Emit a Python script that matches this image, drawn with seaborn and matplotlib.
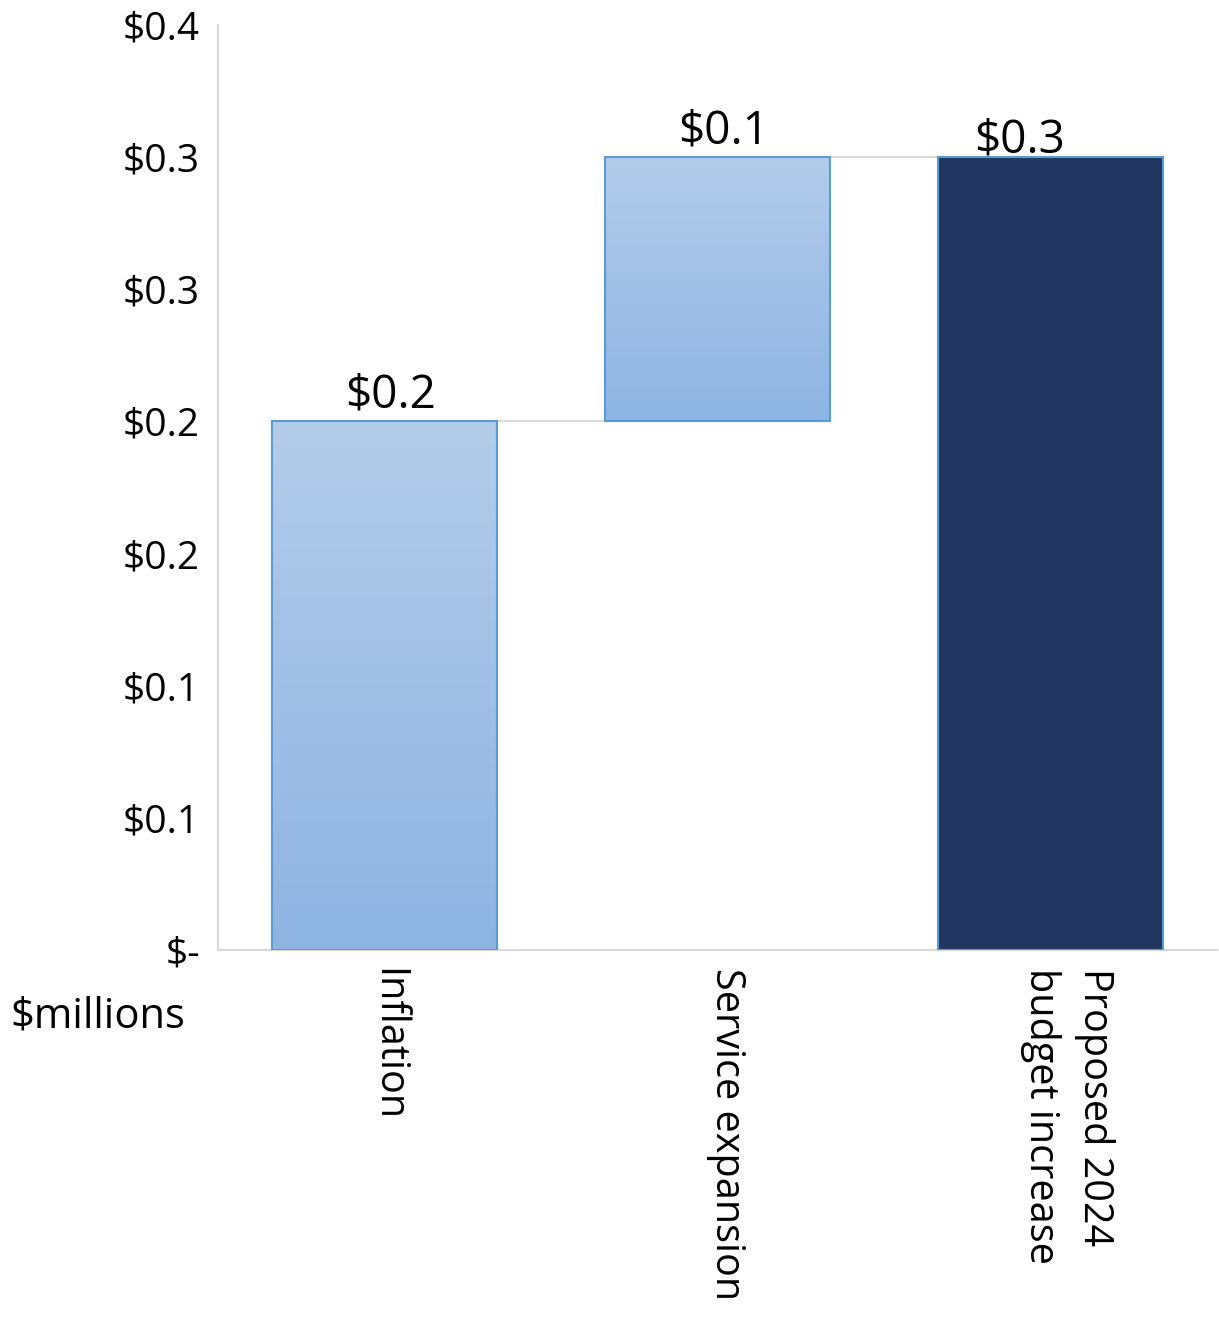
import numpy as np
import pandas as pd
import seaborn as sns
import matplotlib.pyplot as plt
from matplotlib.colors import LinearSegmentedColormap
from matplotlib.transforms import ScaledTranslation

# ---- data ----
categories = ["Inflation", "Service expansion", "Proposed 2024\nbudget increase"]
changes = [0.2, 0.1, 0.3]
is_total = [False, False, True]
value_labels = ["$0.2", "$0.1", "$0.3"]
tick_values = [0.0, 0.05, 0.10, 0.15, 0.20, 0.25, 0.30, 0.35]
tick_labels = ["$-", "$0.1", "$0.1", "$0.2", "$0.2", "$0.3", "$0.3", "$0.4"]

# waterfall bases
bases = []
running = 0.0
for c, t in zip(changes, is_total):
    if t:
        bases.append(0.0)
    else:
        bases.append(running)
        running += c
tops = [b + c for b, c in zip(bases, changes)]

df = pd.DataFrame({"category": categories, "change": changes})

# ---- style ----
sns.set_style("white")
FONT = ["Open Sans", "DejaVu Sans"]
plt.rcParams["font.family"] = FONT
plt.rcParams["text.color"] = "black"
plt.rcParams["xtick.color"] = "black"
plt.rcParams["ytick.color"] = "black"

light_top = "#B3CCEA"
light_bot = "#8EB4E2"
dark = "#213762"
edge = "#5B9BD5"
grid_gray = "#D9D9D9"
bar_w = 0.673

fig = plt.figure(figsize=(12.19, 13.23), dpi=100)
ax = fig.add_axes([218 / 1219, 1 - 950 / 1323, 999 / 1219, 925 / 1323])

palette = [light_top if not t else dark for t in is_total]
sns.barplot(data=df, x="category", y="change", hue="category", palette=palette,
            width=bar_w, legend=False, ax=ax, saturation=1,
            edgecolor=edge, linewidth=1.5, zorder=3)

cmap = LinearSegmentedColormap.from_list("grad", [light_top, light_bot])
grad = np.linspace(0, 1, 256).reshape(-1, 1)
patches = list(ax.patches)
for patch, base, t in zip(patches, bases, is_total):
    patch.set_y(base)
    if not t:
        x0 = patch.get_x()
        x1 = x0 + patch.get_width()
        y0 = base
        y1 = base + patch.get_height()
        patch.set_facecolor("none")
        im = ax.imshow(grad, extent=[x0, x1, y0, y1], aspect="auto", cmap=cmap,
                       zorder=2.9, interpolation="bilinear")
        im.set_clip_path(patch)

# connector lines
for i in range(len(categories) - 1):
    level = tops[i]
    ax.plot([i + bar_w / 2, i + 1 - bar_w / 2], [level, level],
            color=grid_gray, lw=1.5, zorder=1)

ax.set_xlim(-0.5, len(categories) - 0.5)
ax.set_ylim(0, 0.35)
ax.set_yticks(tick_values, tick_labels)
ax.set_xlabel("")
ax.set_ylabel("")
ax.tick_params(axis="y", length=0, pad=13, labelsize=28, labelcolor="black")
ax.tick_params(axis="x", length=0, pad=13, labelcolor="black")
ax.set_xticks(range(len(categories)))
ax.set_xticklabels(categories, rotation=270, fontsize=28.5, ha="center", va="top",
                   rotation_mode="default", multialignment="left", linespacing=1.45)
x_offsets_px = [3, 9, 17]
for lab, dx in zip(ax.get_xticklabels(), x_offsets_px):
    lab.set_transform(lab.get_transform() + ScaledTranslation(dx / 100, 0, fig.dpi_scale_trans))

for s in ["top", "right"]:
    ax.spines[s].set_visible(False)
for s in ["left", "bottom"]:
    ax.spines[s].set_color(grid_gray)
    ax.spines[s].set_linewidth(1.5)

# value labels
label_dx_px = [6, 6, -31]
label_dy_px = [14, 14, 5]
for i, (lab, top) in enumerate(zip(value_labels, tops)):
    ax.annotate(lab, xy=(i, top), xytext=(label_dx_px[i] * 0.72, label_dy_px[i] * 0.72),
                textcoords="offset points", ha="center", va="baseline",
                fontsize=33, color="black", zorder=5)

fig.text(10 / 1219, 1 - 1017 / 1323, "$millions", ha="left", va="center", fontsize=30,
         color="black")

fig.savefig("out.png", dpi=100)
